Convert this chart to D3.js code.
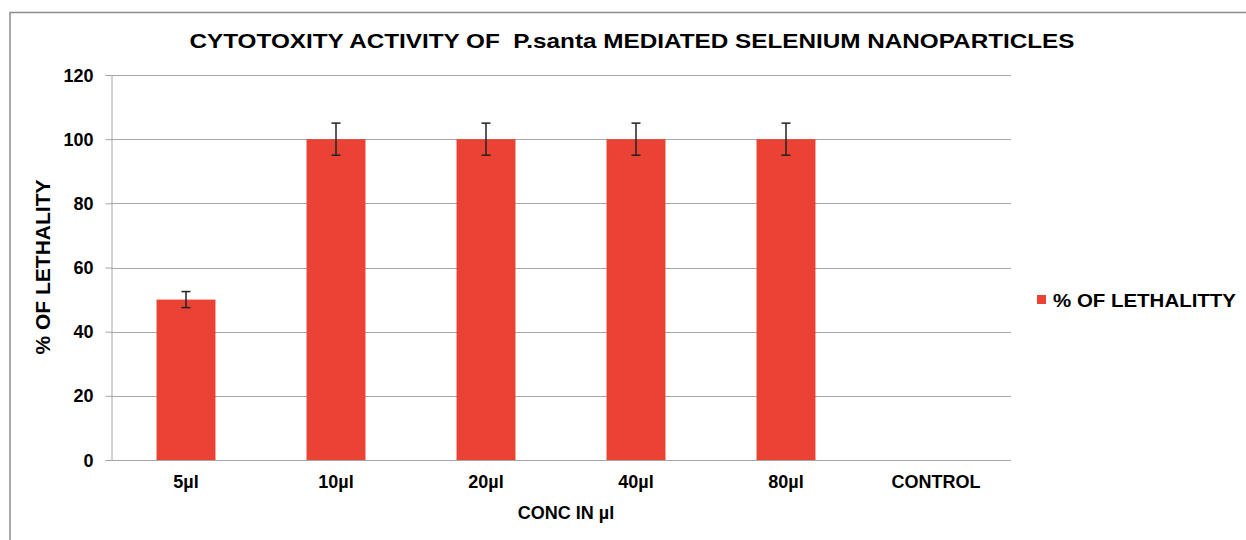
<!DOCTYPE html>
<html><head><meta charset="utf-8">
<script src="https://cdn.jsdelivr.net/npm/d3@7/dist/d3.min.js"></script>
<style>body{margin:0;background:#fff}svg{display:block;font-family:"Liberation Sans",Arial,sans-serif}</style>
</head><body><svg id="c" width="1246" height="540"></svg>
<script>
const categories = ["5µl","10µl","20µl","40µl","80µl","CONTROL"];
const values = [50,100,100,100,100,null];
const errors = [2.5,5,5,5,5,null];
const yTicks = [0,20,40,60,80,100,120];
const title = "CYTOTOXITY ACTIVITY OF  P.santa MEDIATED SELENIUM NANOPARTICLES";
const xTitle = "CONC IN µl";
const yTitle = "% OF LETHALITY";
const legendLabel = "% OF LETHALITTY";

const svg = d3.select("#c");
const m = {left:111, right:1011, top:75, bottom:460};
const x = d3.scaleBand().domain(categories).range([m.left,m.right]).paddingInner(0.607).paddingOuter(0.3035);
const y = d3.scaleLinear().domain([0,120]).range([m.bottom,m.top]);
const red = "#EA4335";
const ff = "'Liberation Sans',Arial,sans-serif";

// frame
svg.append("path").attr("d","M10,540 V12.5 H1246").attr("fill","none").attr("stroke","#8c8c8c").attr("stroke-width",1.5);

// gridlines
svg.append("g").selectAll("line").data(yTicks.filter(d=>d>0)).join("line")
  .attr("x1",m.left).attr("x2",m.right).attr("y1",d=>Math.round(y(d))+0.5).attr("y2",d=>Math.round(y(d))+0.5)
  .attr("stroke","#a6a6a6").attr("stroke-width",1);

// y axis
const ya = svg.append("g").attr("transform",`translate(${m.left+0.5},0)`)
  .call(d3.axisLeft(y).tickValues(yTicks).tickSize(6).tickPadding(12));
ya.select(".domain").attr("stroke","#a6a6a6");
ya.selectAll(".tick line").attr("stroke","#a6a6a6");
ya.selectAll("text").attr("font-size",19).attr("font-weight","bold").attr("fill","#000")
  .attr("font-family",ff).attr("textLength",function(){return this.textContent.length*10;})
  .attr("lengthAdjust","spacingAndGlyphs");

// bars
svg.append("g").selectAll("rect").data(categories.map((c,i)=>({c,v:values[i],e:errors[i]})).filter(d=>d.v!=null)).join("rect")
  .attr("x",d=>x(d.c)).attr("width",x.bandwidth()).attr("y",d=>y(d.v)).attr("height",d=>y(0)-y(d.v)).attr("fill",red);

// x axis
const xa = svg.append("g").attr("transform",`translate(0,${m.bottom+0.5})`)
  .call(d3.axisBottom(x).tickSize(0).tickPadding(15));
xa.select(".domain").attr("stroke","#a6a6a6").attr("d",`M${m.left},0H${m.right}`);
xa.selectAll("text").attr("font-size",18).attr("font-weight","bold").attr("fill","#000")
  .attr("font-family",ff);

// error bars
const eb = svg.append("g").attr("stroke","#222").attr("stroke-width",1.5);
categories.forEach((c,i)=>{
  if(values[i]==null) return;
  const cx = x(c)+x.bandwidth()/2;
  const t = y(values[i]+errors[i]), b = y(values[i]-errors[i]);
  eb.append("line").attr("x1",cx).attr("x2",cx).attr("y1",t).attr("y2",b);
  eb.append("line").attr("x1",cx-4.5).attr("x2",cx+4.5).attr("y1",t).attr("y2",t);
  eb.append("line").attr("x1",cx-4.5).attr("x2",cx+4.5).attr("y1",b).attr("y2",b);
});

// titles
svg.append("text").attr("x",632).attr("y",48).attr("text-anchor","middle").attr("font-size",21)
  .style("white-space","pre")
  .attr("font-weight","bold").attr("textLength",885).attr("lengthAdjust","spacingAndGlyphs").text(title);
svg.append("text").attr("x",566).attr("y",519).attr("text-anchor","middle").attr("font-size",18)
  .attr("font-weight","bold").text(xTitle);
svg.append("text").attr("transform","translate(50,267) rotate(-90)").attr("text-anchor","middle")
  .attr("font-size",20).attr("font-weight","bold").attr("textLength",175).attr("lengthAdjust","spacingAndGlyphs").text(yTitle);

// legend
svg.append("rect").attr("x",1037).attr("y",295).attr("width",9).attr("height",9).attr("fill",red);
svg.append("text").attr("x",1053).attr("y",306.5).attr("font-size",19).attr("font-weight","bold")
  .attr("textLength",183).attr("lengthAdjust","spacingAndGlyphs").text(legendLabel);
</script></body></html>
